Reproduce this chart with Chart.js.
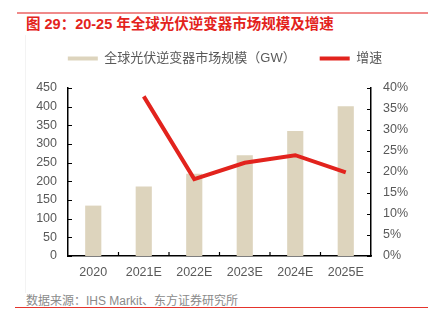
<!DOCTYPE html>
<html>
<head>
<meta charset="utf-8">
<script src="https://cdn.jsdelivr.net/npm/chart.js@4/dist/chart.umd.min.js"></script>
<style>
  html, body { margin: 0; padding: 0; background: #fff; }
  body { width: 435px; height: 324px; position: relative; overflow: hidden; }
  #topline { position: absolute; left: 17px; top: 12px; width: 411px; height: 1.5px; background: #f08a8a; }
  #title { position: absolute; left: 26px; top: 14px; line-height: 20px; font-size: 14.5px; font-weight: bold;
           color: #e3231c; font-family: "Liberation Sans", "Noto Sans CJK SC", sans-serif; white-space: nowrap; }
  #vline { position: absolute; left: 25px; top: 35px; width: 1px; height: 258px; background: #f3f3f3; }
  #wrap { position: absolute; left: 15px; top: 28px; width: 420px; height: 262px; }
  #footer { position: absolute; left: 26px; top: 292px; line-height: 18px; font-size: 12px; color: #8a8a8a;
            font-family: "Liberation Sans", "Noto Sans CJK SC", sans-serif; white-space: nowrap; }
  #botline { position: absolute; left: 15px; top: 307px; width: 413px; height: 1.2px; background: #e5342c; }
</style>
</head>
<body>
<div id="topline"></div>
<div id="title">图 29：20-25 年全球光伏逆变器市场规模及增速</div>
<div id="vline"></div>
<div id="wrap"><canvas id="c" width="420" height="262"></canvas></div>
<div id="footer">数据来源：IHS Markit、东方证券研究所</div>
<div id="botline"></div>
<script>
const categories = ['2020', '2021E', '2022E', '2023E', '2024E', '2025E'];
const marketSize = [135, 186, 220, 270, 335, 401];
const growthRate = [null, 38.0, 18.3, 22.2, 24.0, 19.9];
const leftTicks = [0, 450, 50];
const rightTicks = [0, 40, 5];
const barLabel = '全球光伏逆变器市场规模（GW）';
const lineLabel = '增速';

const FONT = '"Liberation Sans", "Noto Sans CJK SC", sans-serif';
const TICK_COLOR = '#595959';
const BAR_COLOR = '#ddd4bd';
const LINE_COLOR = '#e2231d';

const innerTicks = {
  id: 'innerTicks',
  afterDraw(chart) {
    const ctx = chart.ctx;
    const {x, y, y1} = chart.scales;
    ctx.save();
    ctx.strokeStyle = '#000';
    ctx.lineWidth = 1.2;
    ctx.beginPath();
    y.ticks.forEach(t => {
      const py = Math.round(y.getPixelForValue(t.value)) + 0.5;
      ctx.moveTo(y.right, py); ctx.lineTo(y.right + 4, py);
    });
    y1.ticks.forEach(t => {
      const py = Math.round(y1.getPixelForValue(t.value)) + 0.5;
      ctx.moveTo(y1.left, py); ctx.lineTo(y1.left - 4, py);
    });
    for (let i = 1; i < categories.length; i++) {
      const px = (x.getPixelForValue(i - 1) + x.getPixelForValue(i)) / 2;
      ctx.moveTo(px, x.top); ctx.lineTo(px, x.top - 4);
    }
    ctx.stroke();
    ctx.restore();
  }
};

new Chart(document.getElementById('c'), {
  data: {
    labels: categories,
    datasets: [
      {
        type: 'line', label: lineLabel, data: growthRate, yAxisID: 'y1',
        borderColor: LINE_COLOR, backgroundColor: LINE_COLOR, borderWidth: 4,
        pointRadius: 0, tension: 0, order: 0
      },
      {
        type: 'bar', label: barLabel, data: marketSize, yAxisID: 'y',
        backgroundColor: BAR_COLOR, barPercentage: 0.32, categoryPercentage: 1, order: 1
      }
    ]
  },
  options: {
    responsive: false,
    animation: false,
    devicePixelRatio: 1,
    layout: { padding: { top: 0, left: 0, right: 0, bottom: 0 } },
    plugins: {
      tooltip: { enabled: false },
      title: { display: true, text: '', weight: 500, font: { size: 1, lineHeight: 1 }, padding: { top: 0, bottom: 12 } },
      legend: {
        position: 'top', align: 'center', weight: 1000,
        labels: {
          boxWidth: 30, boxHeight: 4, padding: 24,
          color: TICK_COLOR, font: { family: FONT, size: 13 },
          generateLabels(chart) {
            const items = Chart.defaults.plugins.legend.labels.generateLabels(chart);
            items.forEach(it => { it.lineWidth = 0; it.strokeStyle = 'rgba(0,0,0,0)'; });
            return items.sort((a, b) => b.datasetIndex - a.datasetIndex);
          }
        }
      }
    },
    scales: {
      x: {
        offset: true,
        grid: { display: false, drawTicks: false, offset: true },
        border: { display: true, color: '#000', width: 1.5 },
        ticks: { color: TICK_COLOR, font: { family: FONT, size: 12.5 }, padding: 9, maxRotation: 0 },
        afterFit(s) { s.height = 34; }
      },
      y: {
        position: 'left', min: leftTicks[0], max: leftTicks[1],
        grid: { display: false, drawTicks: false },
        border: { display: true, color: '#000', width: 1.5 },
        ticks: { stepSize: leftTicks[2], color: TICK_COLOR, font: { family: FONT, size: 12.5 }, padding: 11 },
        afterFit(s) { s.width = 53; }
      },
      y1: {
        position: 'right', min: rightTicks[0], max: rightTicks[1],
        grid: { display: false, drawTicks: false },
        border: { display: true, color: '#000', width: 1.5 },
        ticks: { stepSize: rightTicks[2], color: TICK_COLOR, font: { family: FONT, size: 12.5 }, padding: 12,
                 callback: v => v + '%' },
        afterFit(s) { s.width = 64; }
      }
    }
  },
  plugins: [innerTicks]
});
</script>
</body>
</html>
